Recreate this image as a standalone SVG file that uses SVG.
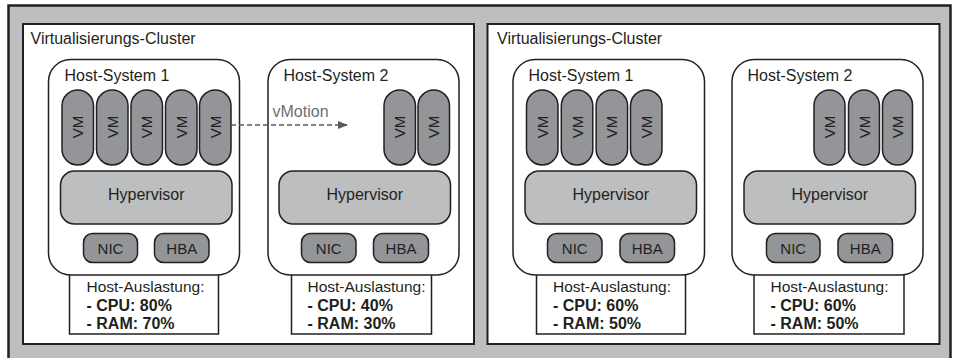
<svg xmlns="http://www.w3.org/2000/svg" width="958" height="358" viewBox="0 0 958 358">
<style>
text{font-family:"Liberation Sans",Arial,sans-serif;fill:#231f20}
.outer{fill:#bcbec0;stroke:#231f20;stroke-width:2.5}
.cluster{fill:#fff;stroke:#231f20;stroke-width:2}
.host{fill:#fff;stroke:#231f20;stroke-width:1.5}
.vm{fill:#939598;stroke:#231f20;stroke-width:1.5}
.hyp{fill:#bcbec0;stroke:#231f20;stroke-width:1.5}
.card{fill:#939598;stroke:#231f20;stroke-width:1.5}
.box{fill:#fff;stroke:#231f20;stroke-width:1.5}
.t16{font-size:16px}
.t15{font-size:15px}
.la{font-size:15.5px}
.vmt{font-size:15px;text-anchor:middle;dominant-baseline:central}
.mid{text-anchor:middle}
.b{font-weight:bold}
.conn{stroke:#58595b;stroke-width:1.5;stroke-dasharray:5 3;fill:none}
</style>
<defs>
<marker id="ah" markerWidth="10" markerHeight="8" refX="9" refY="4" orient="auto" markerUnits="userSpaceOnUse">
<polygon points="0,0 10,4 0,8" fill="#58595b"/>
</marker>
</defs>
<rect class="outer" x="8.5" y="5.5" width="942" height="360"/>

<g id="cluster-a">
<rect class="cluster" x="23" y="24" width="451" height="320"/>
<text class="t16" x="30.5" y="43.5">Virtualisierungs-Cluster</text>
</g>
<g id="cluster-b">
<rect class="cluster" x="487.5" y="24" width="452" height="320"/>
<text class="t16" x="497" y="43.5">Virtualisierungs-Cluster</text>
</g>

<g id="a-host1">
<rect class="box" x="69.5" y="270" width="149" height="64"/>
<rect class="host" x="48.5" y="59.5" width="191" height="215.5" rx="22"/>
<text class="t16" x="64.5" y="81">Host-System 1</text>
<rect class="vm" x="62" y="90" width="31.5" height="75" rx="15.75"/>
<rect class="vm" x="96.5" y="90" width="31.5" height="75" rx="15.75"/>
<rect class="vm" x="131" y="90" width="31.5" height="75" rx="15.75"/>
<rect class="vm" x="165.5" y="90" width="31.5" height="75" rx="15.75"/>
<rect class="vm" x="199.5" y="90" width="31.5" height="75" rx="15.75"/>
<text class="vmt" transform="translate(77.75,127) rotate(-90)">VM</text>
<text class="vmt" transform="translate(112.25,127) rotate(-90)">VM</text>
<text class="vmt" transform="translate(146.75,127) rotate(-90)">VM</text>
<text class="vmt" transform="translate(181.25,127) rotate(-90)">VM</text>
<text class="vmt" transform="translate(215.25,127) rotate(-90)">VM</text>
<rect class="hyp" x="60.5" y="171" width="171.5" height="53" rx="14"/>
<text class="t16 mid" x="146.25" y="200">Hypervisor</text>
<rect class="card" x="83.5" y="233.5" width="54" height="29" rx="9"/>
<text class="t15 mid" x="110.5" y="253.5">NIC</text>
<rect class="card" x="154.5" y="233.5" width="54.5" height="29" rx="9"/>
<text class="t15 mid" x="181.75" y="253.5">HBA</text>
<text class="la" x="86.5" y="292">Host-Auslastung:</text>
<text class="t16 b" x="86.5" y="310.5">- CPU: 80%</text>
<text class="t16 b" x="86.5" y="328.5">- RAM: 70%</text>
</g>

<g id="a-host2">
<rect class="box" x="291.5" y="270" width="140" height="64"/>
<rect class="host" x="268" y="59.5" width="191" height="215.5" rx="22"/>
<text class="t16" x="283.5" y="81">Host-System 2</text>
<rect class="vm" x="384" y="90" width="31.5" height="75" rx="15.75"/>
<rect class="vm" x="418" y="90" width="31.5" height="75" rx="15.75"/>
<text class="vmt" transform="translate(399.75,127) rotate(-90)">VM</text>
<text class="vmt" transform="translate(433.75,127) rotate(-90)">VM</text>
<rect class="hyp" x="279" y="171" width="171.5" height="53" rx="14"/>
<text class="t16 mid" x="364.75" y="200">Hypervisor</text>
<rect class="card" x="301.5" y="233.5" width="54.5" height="29" rx="9"/>
<text class="t15 mid" x="328.75" y="253.5">NIC</text>
<rect class="card" x="373.5" y="233.5" width="55" height="29" rx="9"/>
<text class="t15 mid" x="401" y="253.5">HBA</text>
<text class="la" x="307.5" y="292">Host-Auslastung:</text>
<text class="t16 b" x="307.5" y="310.5">- CPU: 40%</text>
<text class="t16 b" x="307.5" y="328.5">- RAM: 30%</text>
</g>

<g id="b-host1">
<rect class="box" x="536.5" y="270" width="149" height="64"/>
<rect class="host" x="513" y="59.5" width="191.5" height="215.5" rx="22"/>
<text class="t16" x="528.5" y="81">Host-System 1</text>
<rect class="vm" x="526.5" y="90" width="31.5" height="75" rx="15.75"/>
<rect class="vm" x="561.3" y="90" width="31.5" height="75" rx="15.75"/>
<rect class="vm" x="596.1" y="90" width="31.5" height="75" rx="15.75"/>
<rect class="vm" x="630.5" y="90" width="31.5" height="75" rx="15.75"/>
<text class="vmt" transform="translate(542.25,127) rotate(-90)">VM</text>
<text class="vmt" transform="translate(577.05,127) rotate(-90)">VM</text>
<text class="vmt" transform="translate(611.85,127) rotate(-90)">VM</text>
<text class="vmt" transform="translate(646.25,127) rotate(-90)">VM</text>
<rect class="hyp" x="525" y="171" width="171.5" height="53" rx="14"/>
<text class="t16 mid" x="610.75" y="200">Hypervisor</text>
<rect class="card" x="547.5" y="233.5" width="54.5" height="29" rx="9"/>
<text class="t15 mid" x="574.75" y="253.5">NIC</text>
<rect class="card" x="620" y="233.5" width="54.5" height="29" rx="9"/>
<text class="t15 mid" x="647.25" y="253.5">HBA</text>
<text class="la" x="553" y="292">Host-Auslastung:</text>
<text class="t16 b" x="553" y="310.5">- CPU: 60%</text>
<text class="t16 b" x="553" y="328.5">- RAM: 50%</text>
</g>

<g id="b-host2">
<rect class="box" x="754" y="270" width="150" height="64"/>
<rect class="host" x="732" y="59.5" width="191" height="215.5" rx="22"/>
<text class="t16" x="747.5" y="81">Host-System 2</text>
<rect class="vm" x="814" y="90" width="31" height="75" rx="15.5"/>
<rect class="vm" x="848.5" y="90" width="31" height="75" rx="15.5"/>
<rect class="vm" x="882.5" y="90" width="30" height="75" rx="15"/>
<text class="vmt" transform="translate(829.5,127) rotate(-90)">VM</text>
<text class="vmt" transform="translate(864,127) rotate(-90)">VM</text>
<text class="vmt" transform="translate(897.5,127) rotate(-90)">VM</text>
<rect class="hyp" x="744" y="171" width="171.5" height="53" rx="14"/>
<text class="t16 mid" x="829.75" y="200">Hypervisor</text>
<rect class="card" x="766.5" y="233.5" width="53.5" height="29" rx="9"/>
<text class="t15 mid" x="793.25" y="253.5">NIC</text>
<rect class="card" x="838" y="233.5" width="54.5" height="29" rx="9"/>
<text class="t15 mid" x="865.25" y="253.5">HBA</text>
<text class="la" x="770.5" y="292">Host-Auslastung:</text>
<text class="t16 b" x="770.5" y="310.5">- CPU: 60%</text>
<text class="t16 b" x="770.5" y="328.5">- RAM: 50%</text>
</g>

<g id="connectors">
<line class="conn" x1="231" y1="125" x2="347" y2="125" marker-end="url(#ah)"/>
<text class="t16" x="272.5" y="117" style="fill:#6d6e71">vMotion</text>
</g>
</svg>
